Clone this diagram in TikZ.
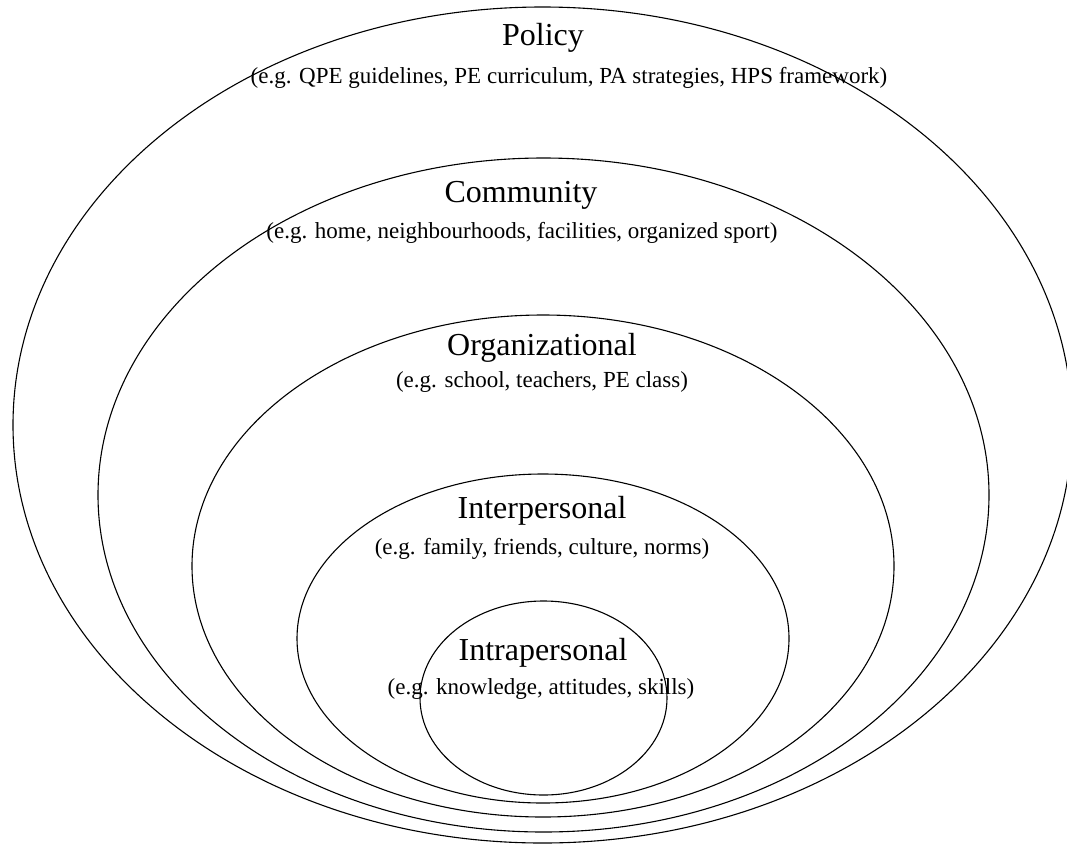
\documentclass[tikz,border=0pt]{standalone}
\usepackage{fontspec}
\setmainfont{Liberation Serif}
\begin{document}
\begin{tikzpicture}[x=1pt,y=-1pt,
  ring/.style={draw=black,line width=1.1pt},
  ttl/.style={anchor=base,inner sep=0pt,font=\fontsize{32}{37}\selectfont},
  sub/.style={anchor=base,inner sep=0pt,font=\fontsize{23}{27}\selectfont}]
\useasboundingbox (0,0) rectangle (1067,846);
\begin{scope}
\clip (0,0) rectangle (1067,846);
\draw[ring] (542.5,425) ellipse [x radius=529.5, y radius=418];
\draw[ring] (543.5,495) ellipse [x radius=445.5, y radius=337];
\draw[ring] (543,566) ellipse [x radius=351, y radius=251];
\draw[ring] (543,638.5) ellipse [x radius=246, y radius=164.5];
\draw[ring] (543.5,698) ellipse [x radius=123.5, y radius=97];
\end{scope}
\node[ttl] (policy) at (543,45) {Policy};
\node[sub] (policysub) at (569,83) {(e.g. QPE guidelines, PE curriculum, PA strategies, HPS framework)};
\node[ttl] (community) at (521,202) {Community};
\node[sub] (communitysub) at (522,238) {(e.g. home, neighbourhoods, facilities, organized sport)};
\node[ttl] (org) at (542,355) {Organizational};
\node[sub] (orgsub) at (542,387) {(e.g. school, teachers, PE class)};
\node[ttl] (inter) at (542,518) {Interpersonal};
\node[sub] (intersub) at (542,554) {(e.g. family, friends, culture, norms)};
\node[ttl] (intra) at (543,660) {Intrapersonal};
\node[sub] (intrasub) at (541,694) {(e.g. knowledge, attitudes, skills)};
\end{tikzpicture}
\end{document}
